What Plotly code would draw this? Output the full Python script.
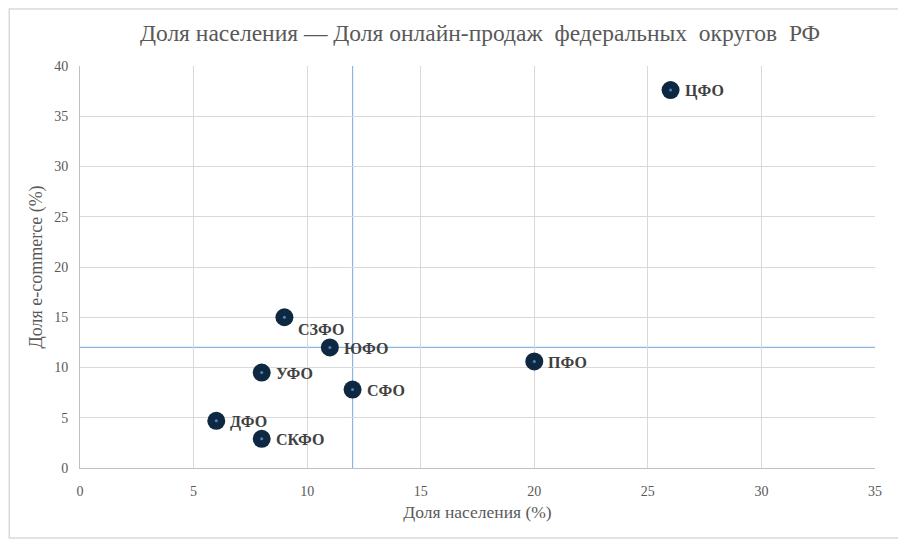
import plotly.graph_objects as go

# --- данные ---
okruga = ["ЦФО", "ПФО", "СЗФО", "ЮФО", "УФО", "СФО", "ДФО", "СКФО"]
dolya_naseleniya = [26, 20, 9, 11, 8, 12, 6, 8]
dolya_ecom = [37.6, 10.6, 15, 12, 9.5, 7.8, 4.7, 2.9]

# средние значения (линии-перекрестие)
sred_nas = 12
sred_ecom = 12

shrift = "'Times New Roman', 'Liberation Serif', 'DejaVu Serif', serif"
seryi = "#595959"

fig = go.Figure()

fig.add_trace(go.Scatter(
    x=dolya_naseleniya,
    y=dolya_ecom,
    mode="markers",
    text=okruga,
    marker=dict(size=18, color="#0e2841"),
    showlegend=False,
))

# светлая точка в центре маркера
fig.add_trace(go.Scatter(
    x=dolya_naseleniya,
    y=dolya_ecom,
    mode="markers",
    marker=dict(size=3, color="#4f81c7"),
    showlegend=False,
    hoverinfo="skip",
))

# подписи округов
for name, xv, yv in zip(okruga, dolya_naseleniya, dolya_ecom):
    fig.add_annotation(
        x=xv, y=yv, text="<b>" + name + "</b>",
        showarrow=False, xanchor="left", yanchor="middle",
        xshift=12, yshift=-12 if name == "СЗФО" else -1,
        font=dict(family=shrift, size=16, color="#404040"),
    )

fig.add_vline(x=sred_nas, line=dict(color="#8eb4e3", width=1.2), layer="below")
fig.add_hline(y=sred_ecom, line=dict(color="#8eb4e3", width=1.2), layer="below")

# рамка вокруг диаграммы
fig.add_shape(type="rect", xref="paper", yref="paper",
              x0=-0.089, x1=1.031, y0=-0.174, y1=1.142,
              line=dict(color="#d9d9d9", width=1.5))

fig.update_layout(
    width=906,
    height=544,
    margin=dict(l=72, r=39, t=58, b=84),
    paper_bgcolor="white",
    plot_bgcolor="white",
    title=dict(
        text="Доля населения — Доля онлайн-продаж  федеральных  округов  РФ",
        x=0.521, xanchor="center", y=0.954, yanchor="middle",
        font=dict(family=shrift, size=23.5, color=seryi),
    ),
    font=dict(family=shrift, size=14, color=seryi),
)

fig.update_xaxes(
    range=[0, 35], dtick=5,
    showgrid=True, gridcolor="#d9d9d9", gridwidth=1,
    showline=True, linecolor="#bfbfbf", linewidth=1,
    zeroline=False, ticks="", ticklabelstandoff=10,
    title=dict(text="Доля населения (%)", font=dict(family=shrift, size=17.5, color=seryi), standoff=7),
)
fig.update_yaxes(
    range=[0, 40], dtick=5,
    showgrid=True, gridcolor="#d9d9d9", gridwidth=1,
    showline=True, linecolor="#bfbfbf", linewidth=1,
    zeroline=False, ticks="", ticklabelstandoff=8,
    title=dict(text="Доля e-commerce (%)", font=dict(family=shrift, size=18, color=seryi), standoff=6),
)

fig.write_html("out.html")
